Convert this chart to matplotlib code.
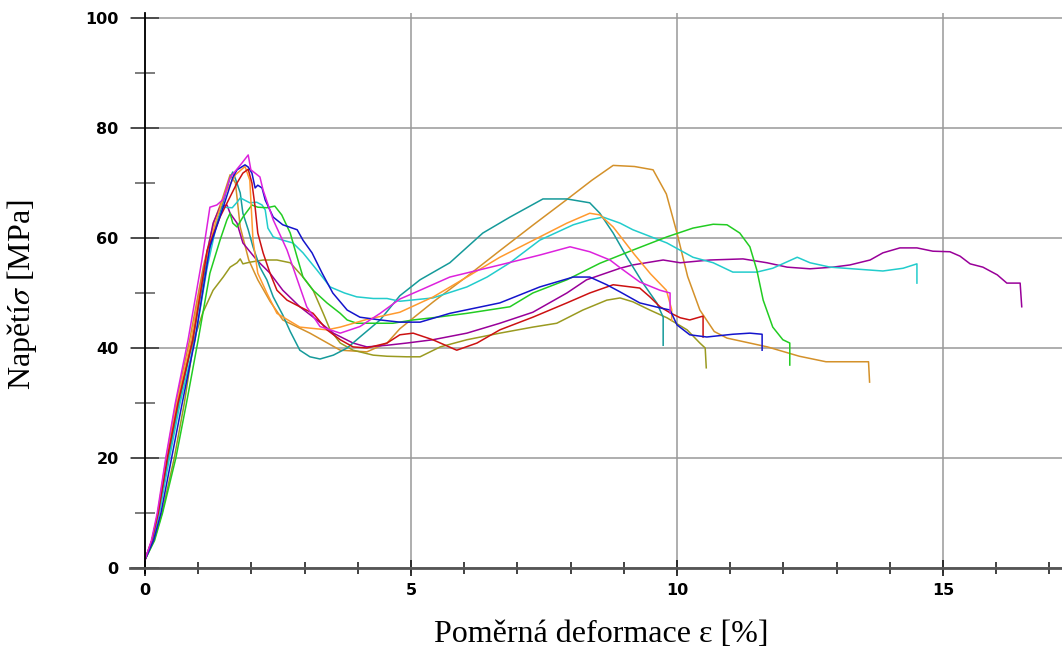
import matplotlib
matplotlib.use("Agg")
import matplotlib.pyplot as plt
from matplotlib.ticker import MultipleLocator

# zkusebni krivky (deformace [%], napeti [MPa])
magenta = [(0, 1.5), (0.12, 5), (0.23, 10), (0.39, 20), (0.57, 30), (0.81, 41.5), (1.07, 56), (1.22, 65.6),
           (1.35, 66), (1.47, 67), (1.6, 71), (1.82, 73.6), (1.94, 75.1), (1.99, 72.4), (2.16, 71.1), (2.22, 68.7),
           (2.41, 63.3), (2.67, 57.8), (2.91, 51.1), (3.04, 47.5), (3.29, 43.9), (3.67, 42.7), (4.04, 43.9),
           (4.42, 46.3), (4.79, 48.9), (5.17, 50.5), (5.73, 52.9), (6.67, 55.1), (7.42, 56.9), (7.99, 58.4),
           (8.36, 57.5), (8.74, 56), (8.93, 54.6), (9.3, 52), (9.68, 50.5), (9.87, 50), (9.87, 46.4)]

blue = [(0, 1.5), (0.16, 5), (0.3, 10), (0.5, 20), (0.7, 30), (0.94, 41.5), (1.22, 58.4), (1.47, 65.6),
        (1.65, 71), (1.73, 72.4), (1.88, 73.3), (1.94, 72.9), (2.01, 71.8), (2.07, 69.1), (2.12, 69.6),
        (2.2, 69.1), (2.26, 66.9), (2.41, 63.8), (2.59, 62.4), (2.86, 61.5), (2.97, 59.6), (3.14, 57.3),
        (3.33, 53.6), (3.53, 50), (3.8, 46.9), (4.04, 45.6), (4.42, 45.1), (4.79, 44.7), (5.17, 44.7),
        (5.73, 46.3), (6.67, 48.2), (7.42, 51.1), (8.05, 52.9), (8.36, 52.9), (8.68, 51.5), (8.93, 50.2),
        (9.3, 48.2), (9.68, 47.3), (9.87, 46.9), (10.0, 44.2), (10.24, 42.4), (10.56, 42), (11.05, 42.5),
        (11.37, 42.7), (11.6, 42.5), (11.6, 39.6)]

red = [(0, 1.5), (0.13, 5), (0.25, 10), (0.42, 20), (0.62, 30), (0.9, 41.5), (1.17, 57.8), (1.41, 63.8),
       (1.6, 67.5), (1.73, 70), (1.84, 71.8), (1.94, 72.5), (2.01, 70), (2.07, 65.6), (2.12, 60.9), (2.22, 57.3),
       (2.35, 53.6), (2.48, 50.5), (2.67, 48.7), (2.91, 47.5), (3.16, 46.3), (3.42, 43.3), (3.67, 41.5),
       (3.91, 40.2), (4.17, 40), (4.55, 40.9), (4.79, 42.4), (5.04, 42.7), (5.41, 41.5), (5.86, 39.6),
       (6.24, 40.9), (6.67, 43.3), (7.29, 45.6), (7.93, 48.2), (8.36, 50), (8.8, 51.5), (9.3, 50.9),
       (9.49, 49.3), (9.68, 47.5), (9.87, 46.4), (10.06, 45.5), (10.24, 45.1), (10.49, 45.8), (10.49, 42)]

green = [(0, 1.5), (0.18, 5), (0.33, 10), (0.58, 20), (0.78, 30), (1.0, 41.5), (1.22, 53.6), (1.41, 59.6),
         (1.54, 63.3), (1.6, 64.5), (1.65, 62.7), (1.73, 62), (1.84, 63.8), (2.01, 66), (2.12, 65.6),
         (2.29, 65.5), (2.44, 65.8), (2.57, 64.2), (2.73, 60.9), (2.86, 56.5), (2.97, 52.9), (3.16, 50.5),
         (3.42, 48.2), (3.67, 46.3), (3.8, 45.1), (3.98, 44.5), (4.29, 44.5), (4.66, 44.5), (5.04, 45.1),
         (5.41, 45.5), (6.05, 46.3), (6.86, 47.5), (7.29, 50), (7.93, 52.4), (8.55, 55.4), (9.17, 57.8),
         (9.81, 60.2), (10.3, 61.8), (10.68, 62.5), (10.94, 62.4), (11.18, 60.9), (11.37, 58.4), (11.5, 54.2),
         (11.62, 48.7), (11.8, 43.8), (11.99, 41.5), (12.12, 40.9), (12.12, 36.9)]

cyan = [(0, 1.5), (0.14, 5), (0.27, 10), (0.46, 20), (0.66, 30), (0.94, 41.5), (1.17, 54.7), (1.35, 62.7),
        (1.47, 65.6), (1.64, 65.5), (1.73, 66.5), (1.79, 67.3), (1.97, 66.4), (2.1, 66.5), (2.2, 66),
        (2.26, 65.1), (2.31, 61.8), (2.41, 60.2), (2.59, 59.6), (2.78, 59.1), (2.97, 57.3), (3.23, 54.2),
        (3.48, 51.1), (3.75, 50), (3.98, 49.3), (4.29, 49), (4.55, 49), (4.79, 48.5), (5.41, 49.1),
        (6.05, 51.1), (6.43, 52.9), (6.86, 55.5), (7.42, 59.6), (8.05, 62.4), (8.36, 63.3), (8.61, 63.8),
        (8.93, 62.7), (9.17, 61.5), (9.81, 59.1), (10.3, 56.5), (10.68, 55.5), (11.05, 53.8), (11.5, 53.8),
        (11.8, 54.5), (12.26, 56.5), (12.5, 55.5), (12.88, 54.7), (13.3, 54.4), (13.87, 54), (14.25, 54.5),
        (14.51, 55.3), (14.51, 51.8)]

purple = [(0, 1.5), (0.13, 5), (0.25, 10), (0.42, 20), (0.62, 30), (0.88, 41.5), (1.09, 53.6), (1.28, 62.7),
          (1.41, 65.6), (1.54, 66), (1.6, 64.5), (1.73, 62.7), (1.84, 59.1), (2.1, 56), (2.35, 53.6),
          (2.59, 50.5), (2.91, 47.5), (3.23, 45.1), (3.54, 42.7), (3.91, 40.9), (4.17, 40.2), (4.55, 40.5),
          (4.92, 40.9), (5.41, 41.5), (6.05, 42.7), (6.67, 44.5), (7.29, 46.5), (7.93, 50), (8.3, 52.4),
          (8.93, 54.5), (9.17, 55.1), (9.74, 56), (10.06, 55.5), (10.62, 56), (11.24, 56.2), (11.69, 55.5),
          (12.07, 54.7), (12.5, 54.4), (12.93, 54.7), (13.25, 55.1), (13.63, 56), (13.87, 57.3), (14.19, 58.2),
          (14.51, 58.2), (14.81, 57.6), (15.13, 57.5), (15.32, 56.7), (15.51, 55.3), (15.75, 54.7),
          (16.02, 53.3), (16.2, 51.8), (16.45, 51.8), (16.48, 47.5)]

teal = [(0, 1.5), (0.14, 5), (0.26, 10), (0.44, 20), (0.64, 30), (0.9, 41.5), (1.17, 56.5), (1.35, 62.7),
        (1.5, 67.5), (1.6, 71), (1.65, 72), (1.71, 70.5), (1.79, 68.2), (1.84, 64.5), (1.94, 61.5),
        (2.03, 58.4), (2.16, 54.7), (2.29, 52.4), (2.41, 49.3), (2.59, 46), (2.73, 43), (2.91, 39.6),
        (3.1, 38.4), (3.29, 38), (3.54, 38.7), (3.8, 40), (4.04, 42), (4.42, 45.1), (4.79, 49.5),
        (5.17, 52.4), (5.73, 55.5), (6.35, 60.9), (6.86, 63.8), (7.48, 67.1), (7.93, 67.1), (8.36, 66.4),
        (8.55, 64.5), (8.8, 60.9), (9.06, 56.5), (9.36, 51.8), (9.62, 48.2), (9.74, 45.6), (9.74, 40.5)]

olive = [(0, 1.5), (0.17, 5), (0.32, 10), (0.55, 20), (0.74, 30), (0.92, 41.5), (1.09, 46.5), (1.28, 50.5),
         (1.47, 52.9), (1.6, 54.7), (1.73, 55.5), (1.79, 56.2), (1.84, 55.3), (1.97, 55.6), (2.22, 56),
         (2.48, 56), (2.73, 55.5), (2.97, 52.9), (3.16, 50.5), (3.35, 46.3), (3.48, 43.3), (3.67, 40.9),
         (3.91, 39.6), (4.29, 38.7), (4.55, 38.5), (4.92, 38.4), (5.17, 38.4), (5.55, 40.2), (6.05, 41.5),
         (6.67, 42.7), (7.29, 43.8), (7.74, 44.5), (8.23, 46.9), (8.68, 48.7), (8.93, 49.1), (9.17, 48.4),
         (9.49, 46.9), (9.81, 45.5), (10.19, 43.3), (10.43, 40.9), (10.53, 40), (10.55, 36.4)]

orange = [(0, 1.5), (0.13, 5), (0.24, 10), (0.4, 20), (0.6, 30), (0.87, 41.5), (1.12, 55), (1.33, 63),
          (1.5, 68), (1.7, 71.5), (1.88, 73), (1.97, 70.5), (2.03, 59.6), (2.12, 53.6), (2.29, 50),
          (2.48, 46.3), (2.91, 43.8), (3.42, 43.3), (3.67, 43.8), (4.17, 45.2), (4.79, 46.5), (5.42, 49.3),
          (6.05, 52.9), (6.67, 56.5), (7.3, 59.6), (7.93, 62.7), (8.36, 64.5), (8.55, 64.2), (8.8, 62),
          (9.2, 57), (9.5, 53.5), (9.8, 50.5), (9.9, 47), (9.9, 45)]

gold = [(0, 1.5), (0.13, 5), (0.24, 10), (0.4, 20), (0.58, 30), (0.84, 41.5), (1.1, 55), (1.3, 63),
        (1.45, 67), (1.6, 71.5), (1.7, 70), (1.79, 62), (1.95, 56), (2.12, 52.4), (2.35, 48.5), (2.59, 45.1),
        (3.1, 42.7), (3.67, 39.6), (4.17, 39.3), (4.55, 40.9), (4.79, 43.5), (5.42, 48.4), (6.05, 53),
        (6.67, 57.7), (7.3, 62.4), (7.93, 67), (8.4, 70.5), (8.8, 73.2), (9.2, 73), (9.55, 72.4), (9.8, 68),
        (10.0, 60.9), (10.2, 53), (10.43, 46.9), (10.7, 43), (10.94, 41.8), (11.7, 40.2), (12.3, 38.5),
        (12.8, 37.5), (13.6, 37.5), (13.62, 33.8)]

curves = [(gold, '#D4912A'), (olive, '#9A9A20'), (purple, '#990099'), (teal, '#159A9A'),
          (cyan, '#22CCCC'), (green, '#22CC22'), (orange, '#FF9A2E'), (red, '#CC1111'),
          (blue, '#1414CC'), (magenta, '#DD22DD')]

plt.rcParams['mathtext.fontset'] = 'stix'

fig = plt.figure(figsize=(10.62, 6.48), dpi=100)
# y=0 na 568 px, y=100 na 18 px, x=0 na 145 px, 53.2 px na jednotku
px_x, px_y = 53.2, 5.5
x0, x1 = -15 / px_x, (1062 - 145) / px_x
y0, y1 = -5 / px_y, 101
ax = fig.add_axes([(145 + x0 * px_x) / 1062, (80 + y0 * px_y) / 648,
                   (x1 - x0) * px_x / 1062, (y1 - y0) * px_y / 648])

for data, col in curves:
    ax.plot([p[0] for p in data], [p[1] for p in data], color=col, lw=1.1)

ax.set_xlim(x0, x1)
ax.set_ylim(y0, y1)
ax.spines['top'].set_visible(False)
ax.spines['right'].set_visible(False)
ax.spines['left'].set_position(('data', 0))
ax.spines['bottom'].set_position(('data', 0))
ax.spines['left'].set_color('black')
ax.spines['left'].set_linewidth(1.3)
ax.spines['bottom'].set_color('#555555')
ax.spines['bottom'].set_linewidth(2)

ax.xaxis.set_minor_locator(MultipleLocator(1))
ax.yaxis.set_minor_locator(MultipleLocator(10))
ax.set_xticks([0, 5, 10, 15])
ax.set_yticks([0, 20, 40, 60, 80, 100])
ax.tick_params(axis='y', which='major', direction='inout', length=20, width=1.3, color='#444444',
               pad=9, labelsize=11.5)
ax.tick_params(axis='y', which='minor', direction='inout', length=14, width=1.2, color='#666666')
ax.tick_params(axis='x', which='major', direction='inout', length=11, width=1.3, color='#222222',
               pad=5, labelsize=11.5)
ax.tick_params(axis='x', which='minor', direction='inout', length=8, width=1.2, color='#222222')
for lab in ax.get_xticklabels() + ax.get_yticklabels():
    lab.set_fontweight('bold')
    lab.set_family('DejaVu Sans')

ax.grid(True, which='major', color='#999999', lw=1.1)
ax.set_axisbelow(True)

fig.text(0.566, 0.021, 'Poměrná deformace ε [%]', ha='center', va='center',
         family='Liberation Serif', fontsize=23)
fig.text(0.021, 0.545, r'Napětí$\sigma$ [MPa]', ha='center', va='center', rotation=90,
         family='Liberation Serif', fontsize=23)

fig.savefig('out.png', dpi=100)
